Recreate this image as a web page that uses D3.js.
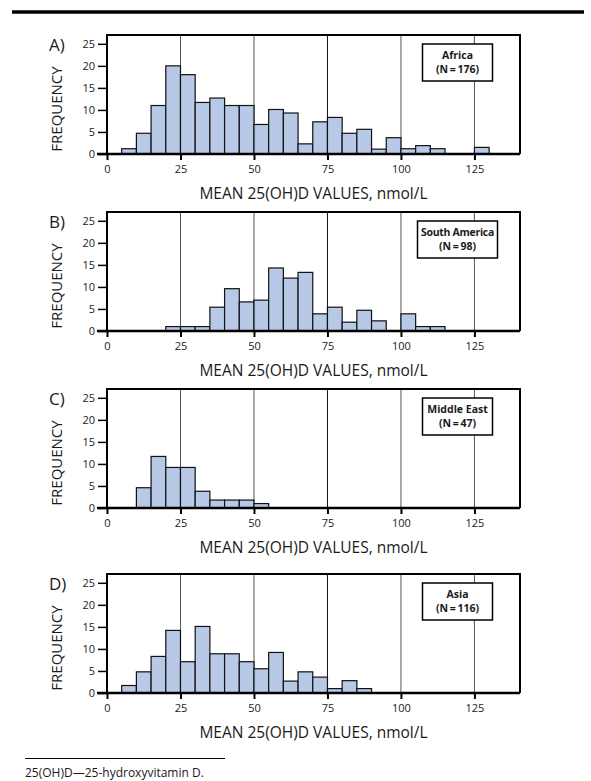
<!DOCTYPE html>
<html>
<head>
<meta charset="utf-8">
<script src="https://cdn.jsdelivr.net/npm/d3@7"></script>
<style>
  body { margin: 0; background: #fff; }
  svg { display: block; }
  text { font-family: "Open Sans", "Noto Sans", sans-serif; fill: #1a1a1a; }
</style>
</head>
<body>
<div id="chart"></div>
<script>
// bin width 5 nmol/L, first bin starts at the given value
let binWidth = 5
let xTicks = [0, 25, 50, 75, 100, 125]
let yTicks = [0, 5, 10, 15, 20, 25]
let xTitle = 'MEAN 25(OH)D VALUES, nmol/L'
let yTitle = 'FREQUENCY'

let panelLetters = ['A)', 'B)', 'C)', 'D)']
let regions = ['Africa', 'South America', 'Middle East', 'Asia']
let regionN = ['(N\u2009=\u2009176)', '(N\u2009=\u200998)', '(N\u2009=\u200947)', '(N\u2009=\u2009116)']
let binStart = [5, 20, 10, 5]

let africa = [1.2, 4.7, 11, 20, 18, 11.7, 12.7, 11, 11, 6.7, 10.1, 9.3, 2.3, 7.3, 8.3, 4.7, 5.6, 1.1, 3.7, 1.2, 1.9, 1.2, 0, 0, 1.5]
let southAmerica = [1, 1, 1, 5.4, 9.6, 6.6, 7, 14.3, 12, 13.3, 3.9, 5.4, 2, 4.7, 2.3, 0, 3.9, 1, 1]
let middleEast = [4.6, 11.7, 9.2, 9.2, 3.8, 1.8, 1.8, 1.8, 1]
let asia = [1.7, 4.8, 8.3, 14.2, 7.1, 15.1, 8.9, 8.9, 7.1, 5.5, 9.2, 2.7, 4.8, 3.6, 1, 2.8, 1]

let footnote = '25(OH)D\u201425-hydroxyvitamin D.'

function init(){
	let series = [africa, southAmerica, middleEast, asia]
	let svg = d3.select('#chart').append('svg')
		.attr('width', 591)
		.attr('height', 781)

	// top rule
	svg.append('line')
		.attr('x1', 12).attr('x2', 584)
		.attr('y1', 12).attr('y2', 12)
		.attr('stroke', '#000').attr('stroke-width', 3.5)

	let tops = [35, 212, 389, 574]
	series.forEach(function(counts, i){
		drawPanel(svg, i, counts, tops[i])
	})

	svg.append('line')
		.attr('x1', 25).attr('x2', 225)
		.attr('y1', 758.5).attr('y2', 758.5)
		.attr('stroke', '#000').attr('stroke-width', 1)
	svg.append('text')
		.attr('x', 25).attr('y', 777)
		.attr('font-size', 12)
		.text(footnote)
}

function drawPanel(svg, i, counts, top){
	let left = 107, right = 520, height = 119
	let g = svg.append('g').attr('transform', 'translate(0,' + top + ')')

	let x = d3.scaleLinear().domain([0, 140.5]).range([left, right])
	let y = d3.scaleLinear().domain([0, 27]).range([height, 0])

	let bins = counts.map(function(v, k){
		let x0 = binStart[i] + k * binWidth
		return {x0: x0, x1: x0 + binWidth, v: v}
	}).filter(function(d){ return d.v > 0 })

	// vertical grid lines
	g.selectAll('.grid')
		.data(xTicks.filter(function(d){ return d > 0 }))
		.enter().append('line')
		.attr('x1', function(d){ return x(d) })
		.attr('x2', function(d){ return x(d) })
		.attr('y1', 0).attr('y2', height)
		.attr('stroke', function(d){ return d == 75 ? '#111' : '#555' })
		.attr('stroke-width', 1)

	g.selectAll('.bar')
		.data(bins)
		.enter().append('rect')
		.attr('x', function(d){ return x(d.x0) })
		.attr('width', function(d){ return x(d.x1) - x(d.x0) })
		.attr('y', function(d){ return y(d.v) })
		.attr('height', function(d){ return y(0) - y(d.v) })
		.attr('fill', '#b8c9e8')
		.attr('stroke', '#111')
		.attr('stroke-width', 1.2)

	// frame (left, top, right)
	g.append('path')
		.attr('d', 'M' + left + ',' + height + 'V0H' + right + 'V' + height)
		.attr('fill', 'none')
		.attr('stroke', '#000')
		.attr('stroke-width', 2)

	// x axis
	let xAxis = g.append('g')
		.attr('transform', 'translate(0,' + height + ')')
		.call(d3.axisBottom(x).tickValues(xTicks).tickSize(6).tickPadding(5))
	xAxis.select('.domain').attr('stroke-width', 2.5).attr('d', 'M97,0H' + right)
	xAxis.selectAll('.tick line').attr('stroke-width', 2)
	xAxis.selectAll('text').attr('font-size', 11).attr('font-family', '"Open Sans", sans-serif').attr('fill', '#1a1a1a')

	// y axis
	let yAxis = g.append('g')
		.attr('transform', 'translate(' + left + ',0)')
		.call(d3.axisLeft(y).tickValues(yTicks).tickSize(9).tickPadding(3))
	yAxis.select('.domain').remove()
	yAxis.selectAll('.tick line').attr('stroke-width', 1.5)
	yAxis.selectAll('text').attr('font-size', 11).attr('font-family', '"Open Sans", sans-serif').attr('fill', '#1a1a1a')

	g.append('text')
		.attr('x', (left + right) / 2)
		.attr('y', height + 45)
		.attr('text-anchor', 'middle')
		.attr('font-size', 15.5)
		.text(xTitle)

	g.append('text')
		.attr('transform', 'translate(62,74) rotate(-90)')
		.attr('text-anchor', 'middle')
		.attr('font-size', 15)
		.text(yTitle)

	g.append('text')
		.attr('x', 49).attr('y', 16)
		.attr('font-size', 17)
		.text(panelLetters[i])

	// legend box
	let bw = i == 1 ? 80 : 70
	let bx = i == 1 ? 417.5 : 422.5
	g.append('rect')
		.attr('x', bx).attr('y', 9)
		.attr('width', bw).attr('height', 37)
		.attr('fill', '#fff')
		.attr('stroke', '#000')
		.attr('stroke-width', 1.5)
	g.append('text')
		.attr('x', bx + bw / 2).attr('y', 24)
		.attr('text-anchor', 'middle')
		.attr('font-size', 10.5).attr('font-weight', 'bold')
		.attr('letter-spacing', i == 1 ? -0.3 : 0)
		.text(regions[i])
	g.append('text')
		.attr('x', bx + bw / 2).attr('y', 38)
		.attr('text-anchor', 'middle')
		.attr('font-size', 10.5).attr('font-weight', 'bold')
		.text(regionN[i])
}

init()
</script>
</body>
</html>
